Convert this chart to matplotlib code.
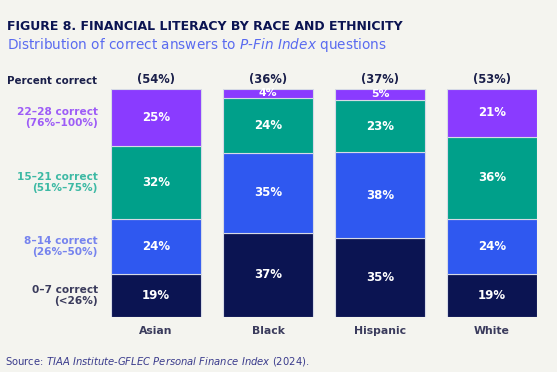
import matplotlib.pyplot as plt
import numpy as np

groups = ["Asian", "Black", "Hispanic", "White"]
totals = ["(54%)", "(36%)", "(37%)", "(53%)"]
# bottom to top: 0-7, 8-14, 15-21, 22-28 correct
pct_0_7 = [19, 37, 35, 19]
pct_8_14 = [24, 35, 38, 24]
pct_15_21 = [32, 24, 23, 36]
pct_22_28 = [25, 4, 5, 21]
band_labels = ["0\u20137 correct\n(<26%)", "8\u201314 correct\n(26%\u201350%)",
               "15\u201321 correct\n(51%\u201375%)", "22\u201328 correct\n(76%\u2013100%)"]

bar_colors = ["#0B1452", "#2F58F0", "#00A08A", "#8A3BFF"]
text_colors = ["#3A3B5C", "#7683EE", "#3DB9A4", "#9D5CF7"]
bg = "#F4F4EF"

plt.rcParams['font.family'] = 'DejaVu Sans'

fig = plt.figure(figsize=(5.57, 3.72), dpi=100, facecolor=bg)
ax = fig.add_axes([111/557, 1-317/372, 426/557, 228/372])
ax.set_facecolor(bg)

series = np.array([pct_0_7, pct_8_14, pct_15_21, pct_22_28], dtype=float)
heights = series / series.sum(axis=0) * 100  # some groups sum to 101 from rounding
x = np.arange(len(groups))
w = 90/112
bottom = np.zeros(len(groups))
for i in range(4):
    ax.bar(x, heights[i], w, bottom=bottom, color=bar_colors[i],
           edgecolor="#D6DAE6", linewidth=0.8)
    for j in range(len(groups)):
        h = heights[i][j]
        yc = bottom[j] + h/2
        fs = 8.5 if h > 8 else 7.8
        ax.text(x[j], yc + (0.3 if h < 8 else 0), f"{int(series[i][j])}%", ha='center', va='center',
                color='white', fontsize=fs, fontweight='bold')
    bottom += heights[i]

# left labels positioned at the Asian bar's segments
cum = 0
for i in range(4):
    yc = cum + heights[i][0]/2
    ax.text(-0.52, yc, band_labels[i], ha='right', va='center', color=text_colors[i],
            fontsize=7.6, fontweight='bold', linespacing=1.15)
    cum += heights[i][0]

for j in range(len(groups)):
    ax.text(x[j], 101.3, totals[j], ha='center', va='bottom', color='#1A1F4A',
            fontsize=8.3, fontweight='bold')
    ax.text(x[j], -4, groups[j], ha='center', va='top', color='#3A3B5C',
            fontsize=7.8, fontweight='bold')

ax.text(-0.4018 - 104/112, 101.3, "Percent correct", ha='left', va='bottom', color='#1A1F4A',
        fontsize=7.4, fontweight='bold')

ax.set_xlim(-w/2, 3 + w/2)
ax.set_ylim(0, 100)
ax.axis('off')

fig.text(7/557, 1-27/372, "FIGURE 8. FINANCIAL LITERACY BY RACE AND ETHNICITY", ha='left', va='center',
         color='#0B1452', fontsize=9.0, fontweight='bold')
fig.text(7/557, 1-45/372, "Distribution of correct answers to $\\it{P}$-$\\it{Fin\\ Index}$ questions",
         ha='left', va='center', color='#5A6BF0', fontsize=9.8)
fig.text(5/557, 1-361/372, "Source: $\\it{TIAA\\ Institute}$-$\\it{GFLEC\\ Personal\\ Finance\\ Index}$ (2024).",
         ha='left', va='center', color='#3A3B8C', fontsize=7.2)

fig.savefig("out.png", dpi=100, facecolor=bg)
